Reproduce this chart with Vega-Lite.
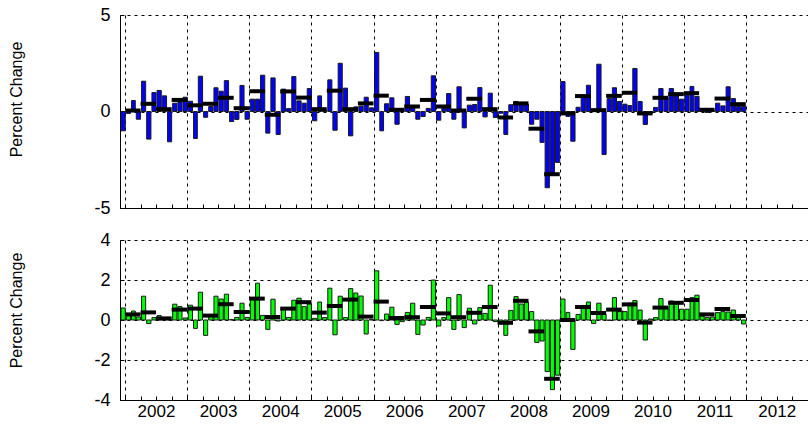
{
  "$schema": "https://vega.github.io/schema/vega-lite/v6.json",
  "padding": {"left": 8, "top": 6, "right": 0, "bottom": 0},
  "background": "white",
  "config": {"font": "Liberation Sans", "view": {"stroke": null}},
  "datasets": {
    "monthly": [
      {"month": "2001-12-01", "pctA": -1.0, "pctB": 0.6},
      {"month": "2002-01-01", "pctA": -0.1, "pctB": 0.25},
      {"month": "2002-02-01", "pctA": 0.57, "pctB": 0.45},
      {"month": "2002-03-01", "pctA": -0.4, "pctB": 0.15},
      {"month": "2002-04-01", "pctA": 1.57, "pctB": 1.19},
      {"month": "2002-05-01", "pctA": -1.43, "pctB": -0.18},
      {"month": "2002-06-01", "pctA": 0.98, "pctB": 0.12},
      {"month": "2002-07-01", "pctA": 1.09, "pctB": 0.22},
      {"month": "2002-08-01", "pctA": 0.81, "pctB": 0.02},
      {"month": "2002-09-01", "pctA": -1.57, "pctB": 0.02},
      {"month": "2002-10-01", "pctA": 0.43, "pctB": 0.79},
      {"month": "2002-11-01", "pctA": 0.5, "pctB": 0.67},
      {"month": "2002-12-01", "pctA": 0.74, "pctB": 0.1},
      {"month": "2003-01-01", "pctA": 0.53, "pctB": 0.74},
      {"month": "2003-02-01", "pctA": -1.4, "pctB": -0.42},
      {"month": "2003-03-01", "pctA": 1.83, "pctB": 1.39},
      {"month": "2003-04-01", "pctA": -0.3, "pctB": -0.77},
      {"month": "2003-05-01", "pctA": 0.26, "pctB": 0.2},
      {"month": "2003-06-01", "pctA": 1.23, "pctB": 1.19},
      {"month": "2003-07-01", "pctA": 1.05, "pctB": 1.05},
      {"month": "2003-08-01", "pctA": 1.6, "pctB": 1.29},
      {"month": "2003-09-01", "pctA": -0.52, "pctB": 0.02},
      {"month": "2003-10-01", "pctA": -0.41, "pctB": 0.13},
      {"month": "2003-11-01", "pctA": 1.35, "pctB": 0.84},
      {"month": "2003-12-01", "pctA": -0.4, "pctB": 0.13},
      {"month": "2004-01-01", "pctA": 0.64, "pctB": 1.12},
      {"month": "2004-02-01", "pctA": 0.64, "pctB": 1.84},
      {"month": "2004-03-01", "pctA": 1.88, "pctB": 0.23},
      {"month": "2004-04-01", "pctA": -1.12, "pctB": -0.47},
      {"month": "2004-05-01", "pctA": 1.74, "pctB": 1.04},
      {"month": "2004-06-01", "pctA": -1.19, "pctB": -0.05},
      {"month": "2004-07-01", "pctA": 1.16, "pctB": 0.59},
      {"month": "2004-08-01", "pctA": 0.15, "pctB": 0.13},
      {"month": "2004-09-01", "pctA": 1.81, "pctB": 0.99},
      {"month": "2004-10-01", "pctA": 0.55, "pctB": 1.09},
      {"month": "2004-11-01", "pctA": 0.43, "pctB": 0.67},
      {"month": "2004-12-01", "pctA": 1.19, "pctB": 0.8},
      {"month": "2005-01-01", "pctA": -0.48, "pctB": 0.08},
      {"month": "2005-02-01", "pctA": 0.81, "pctB": 0.9},
      {"month": "2005-03-01", "pctA": 0.03, "pctB": 0.12},
      {"month": "2005-04-01", "pctA": 1.64, "pctB": 1.59},
      {"month": "2005-05-01", "pctA": -0.97, "pctB": -0.74},
      {"month": "2005-06-01", "pctA": 2.5, "pctB": 1.19},
      {"month": "2005-07-01", "pctA": 1.21, "pctB": 0.12},
      {"month": "2005-08-01", "pctA": -1.26, "pctB": 1.57},
      {"month": "2005-09-01", "pctA": 0.24, "pctB": 1.35},
      {"month": "2005-10-01", "pctA": 0.28, "pctB": 1.2},
      {"month": "2005-11-01", "pctA": 0.74, "pctB": -0.7},
      {"month": "2005-12-01", "pctA": 0.19, "pctB": 0.03},
      {"month": "2006-01-01", "pctA": 3.06, "pctB": 2.46},
      {"month": "2006-02-01", "pctA": -1.0, "pctB": -0.03},
      {"month": "2006-03-01", "pctA": 0.4, "pctB": 0.3},
      {"month": "2006-04-01", "pctA": 0.71, "pctB": 0.64},
      {"month": "2006-05-01", "pctA": -0.66, "pctB": -0.22},
      {"month": "2006-06-01", "pctA": 0.15, "pctB": -0.08},
      {"month": "2006-07-01", "pctA": 0.78, "pctB": 0.38},
      {"month": "2006-08-01", "pctA": 0.2, "pctB": 0.84},
      {"month": "2006-09-01", "pctA": -0.4, "pctB": -0.72},
      {"month": "2006-10-01", "pctA": -0.26, "pctB": -0.25},
      {"month": "2006-11-01", "pctA": 0.16, "pctB": 0.13},
      {"month": "2006-12-01", "pctA": 1.85, "pctB": 2.0},
      {"month": "2007-01-01", "pctA": -0.45, "pctB": -0.3},
      {"month": "2007-02-01", "pctA": 0.17, "pctB": 0.12},
      {"month": "2007-03-01", "pctA": 0.93, "pctB": 1.12},
      {"month": "2007-04-01", "pctA": -0.4, "pctB": -0.47},
      {"month": "2007-05-01", "pctA": 1.28, "pctB": 1.27},
      {"month": "2007-06-01", "pctA": -0.85, "pctB": -0.38},
      {"month": "2007-07-01", "pctA": 0.33, "pctB": 0.59},
      {"month": "2007-08-01", "pctA": 0.36, "pctB": -0.2},
      {"month": "2007-09-01", "pctA": 1.24, "pctB": 0.62},
      {"month": "2007-10-01", "pctA": -0.28, "pctB": 0.33},
      {"month": "2007-11-01", "pctA": 0.95, "pctB": 1.74},
      {"month": "2007-12-01", "pctA": -0.31, "pctB": -0.08},
      {"month": "2008-01-01", "pctA": -0.09, "pctB": -0.15},
      {"month": "2008-02-01", "pctA": -1.19, "pctB": -0.77},
      {"month": "2008-03-01", "pctA": 0.35, "pctB": 0.48},
      {"month": "2008-04-01", "pctA": 0.52, "pctB": 1.17},
      {"month": "2008-05-01", "pctA": 0.4, "pctB": 0.8},
      {"month": "2008-06-01", "pctA": 0.38, "pctB": 0.89},
      {"month": "2008-07-01", "pctA": -0.66, "pctB": 0.42},
      {"month": "2008-08-01", "pctA": -0.4, "pctB": -1.12},
      {"month": "2008-09-01", "pctA": -1.6, "pctB": -1.05},
      {"month": "2008-10-01", "pctA": -3.95, "pctB": -2.58},
      {"month": "2008-11-01", "pctA": -3.16, "pctB": -3.48},
      {"month": "2008-12-01", "pctA": -2.64, "pctB": -2.76},
      {"month": "2009-01-01", "pctA": 1.55, "pctB": 1.05},
      {"month": "2009-02-01", "pctA": -0.26, "pctB": 0.38},
      {"month": "2009-03-01", "pctA": -1.54, "pctB": -1.47},
      {"month": "2009-04-01", "pctA": 0.22, "pctB": 0.28},
      {"month": "2009-05-01", "pctA": 0.81, "pctB": 0.72},
      {"month": "2009-06-01", "pctA": 1.36, "pctB": 0.9},
      {"month": "2009-07-01", "pctA": 0.05, "pctB": -0.17},
      {"month": "2009-08-01", "pctA": 2.45, "pctB": 0.84},
      {"month": "2009-09-01", "pctA": -2.23, "pctB": 0.28},
      {"month": "2009-10-01", "pctA": 0.67, "pctB": -0.02},
      {"month": "2009-11-01", "pctA": 1.23, "pctB": 1.12},
      {"month": "2009-12-01", "pctA": 0.52, "pctB": 0.42},
      {"month": "2010-01-01", "pctA": 0.38, "pctB": 0.42},
      {"month": "2010-02-01", "pctA": 0.31, "pctB": 0.84},
      {"month": "2010-03-01", "pctA": 2.23, "pctB": 0.97},
      {"month": "2010-04-01", "pctA": 0.52, "pctB": 0.5},
      {"month": "2010-05-01", "pctA": -0.67, "pctB": -1.0},
      {"month": "2010-06-01", "pctA": -0.1, "pctB": 0.05},
      {"month": "2010-07-01", "pctA": 0.21, "pctB": 0.12},
      {"month": "2010-08-01", "pctA": 1.19, "pctB": 1.07},
      {"month": "2010-09-01", "pctA": 0.74, "pctB": 0.67},
      {"month": "2010-10-01", "pctA": 1.19, "pctB": 0.95},
      {"month": "2010-11-01", "pctA": 0.81, "pctB": 0.9},
      {"month": "2010-12-01", "pctA": 0.64, "pctB": 0.54},
      {"month": "2011-01-01", "pctA": 0.85, "pctB": 0.54},
      {"month": "2011-02-01", "pctA": 1.3, "pctB": 1.12},
      {"month": "2011-03-01", "pctA": 0.78, "pctB": 1.24},
      {"month": "2011-04-01", "pctA": 0.08, "pctB": 0.2},
      {"month": "2011-05-01", "pctA": -0.05, "pctB": 0.12},
      {"month": "2011-06-01", "pctA": 0.06, "pctB": 0.15},
      {"month": "2011-07-01", "pctA": 0.43, "pctB": 0.37},
      {"month": "2011-08-01", "pctA": 0.29, "pctB": 0.42},
      {"month": "2011-09-01", "pctA": 1.28, "pctB": 0.4},
      {"month": "2011-10-01", "pctA": 0.67, "pctB": 0.5},
      {"month": "2011-11-01", "pctA": 0.26, "pctB": 0.13},
      {"month": "2011-12-01", "pctA": 0.27, "pctB": -0.2}
    ],
    "quarterly": [
      {"start": "2002-01-01", "end": "2002-04-01", "qA": 0.05, "qB": 0.28},
      {"start": "2002-04-01", "end": "2002-07-01", "qA": 0.4, "qB": 0.38},
      {"start": "2002-07-01", "end": "2002-10-01", "qA": 0.12, "qB": 0.08},
      {"start": "2002-10-01", "end": "2003-01-01", "qA": 0.6, "qB": 0.52},
      {"start": "2003-01-01", "end": "2003-04-01", "qA": 0.32, "qB": 0.57},
      {"start": "2003-04-01", "end": "2003-07-01", "qA": 0.4, "qB": 0.22},
      {"start": "2003-07-01", "end": "2003-10-01", "qA": 0.71, "qB": 0.79},
      {"start": "2003-10-01", "end": "2004-01-01", "qA": 0.17, "qB": 0.4},
      {"start": "2004-01-01", "end": "2004-04-01", "qA": 1.05, "qB": 1.07},
      {"start": "2004-04-01", "end": "2004-07-01", "qA": -0.17, "qB": 0.15},
      {"start": "2004-07-01", "end": "2004-10-01", "qA": 1.04, "qB": 0.57},
      {"start": "2004-10-01", "end": "2005-01-01", "qA": 0.72, "qB": 0.89},
      {"start": "2005-01-01", "end": "2005-04-01", "qA": 0.12, "qB": 0.37},
      {"start": "2005-04-01", "end": "2005-07-01", "qA": 1.08, "qB": 0.7},
      {"start": "2005-07-01", "end": "2005-10-01", "qA": 0.12, "qB": 1.02},
      {"start": "2005-10-01", "end": "2006-01-01", "qA": 0.42, "qB": 0.17},
      {"start": "2006-01-01", "end": "2006-04-01", "qA": 0.82, "qB": 0.92},
      {"start": "2006-04-01", "end": "2006-07-01", "qA": 0.09, "qB": 0.1},
      {"start": "2006-07-01", "end": "2006-10-01", "qA": 0.26, "qB": 0.14},
      {"start": "2006-10-01", "end": "2007-01-01", "qA": 0.6, "qB": 0.65},
      {"start": "2007-01-01", "end": "2007-04-01", "qA": 0.26, "qB": 0.33},
      {"start": "2007-04-01", "end": "2007-07-01", "qA": 0.05, "qB": 0.14},
      {"start": "2007-07-01", "end": "2007-10-01", "qA": 0.66, "qB": 0.36},
      {"start": "2007-10-01", "end": "2008-01-01", "qA": 0.12, "qB": 0.65},
      {"start": "2008-01-01", "end": "2008-04-01", "qA": -0.31, "qB": -0.14},
      {"start": "2008-04-01", "end": "2008-07-01", "qA": 0.42, "qB": 0.96},
      {"start": "2008-07-01", "end": "2008-10-01", "qA": -0.89, "qB": -0.57},
      {"start": "2008-10-01", "end": "2009-01-01", "qA": -3.25, "qB": -2.94},
      {"start": "2009-01-01", "end": "2009-04-01", "qA": -0.1, "qB": 0.0},
      {"start": "2009-04-01", "end": "2009-07-01", "qA": 0.8, "qB": 0.65},
      {"start": "2009-07-01", "end": "2009-10-01", "qA": 0.07, "qB": 0.35},
      {"start": "2009-10-01", "end": "2010-01-01", "qA": 0.81, "qB": 0.52},
      {"start": "2010-01-01", "end": "2010-04-01", "qA": 0.97, "qB": 0.78},
      {"start": "2010-04-01", "end": "2010-07-01", "qA": -0.1, "qB": -0.13},
      {"start": "2010-07-01", "end": "2010-10-01", "qA": 0.71, "qB": 0.62},
      {"start": "2010-10-01", "end": "2011-01-01", "qA": 0.9, "qB": 0.86},
      {"start": "2011-01-01", "end": "2011-04-01", "qA": 0.95, "qB": 1.0},
      {"start": "2011-04-01", "end": "2011-07-01", "qA": 0.09, "qB": 0.28},
      {"start": "2011-07-01", "end": "2011-10-01", "qA": 0.67, "qB": 0.55},
      {"start": "2011-10-01", "end": "2012-01-01", "qA": 0.38, "qB": 0.2}
    ]
  },
  "spacing": 14,
  "vconcat": [
    {
      "width": 688,
      "height": 193,
      "layer": [
        {
          "data": {"name": "monthly"},
          "mark": {"type": "bar", "color": "#0000ff", "stroke": "#1a1a1a", "strokeWidth": 1},
          "encoding": {
            "x": {
              "field": "month", "timeUnit": "utcyearmonth", "type": "temporal",
              "scale": {"type": "utc", "domain": [{"year": 2001, "month": 12, "date": 1, "utc": true}, {"year": 2013, "month": 1, "date": 1, "utc": true}]},
              "axis": {
                "title": null, "labels": false,
                "tickCount": {"interval": "month", "step": 3},
                "tickSize": -4, "tickColor": "black", "domainColor": "black",
                "grid": true, "gridColor": "black", "gridDash": [3, 4],
                "gridOpacity": {"condition": {"test": "utcmonth(datum.value) == 0", "value": 1}, "value": 0}
              }
            },
            "y": {
              "field": "pctA", "type": "quantitative",
              "scale": {"domain": [-5, 5], "nice": false},
              "axis": {
                "title": "Percent Change", "values": [-5, 0, 5], "labelOverlap": false,
                "labelExpr": "datum.value < 0 ? '-' + abs(datum.value) : '' + datum.value",
                "tickSize": -4, "tickColor": "black", "domainColor": "black",
                "labelPadding": 14, "labelFontSize": 18, "labelColor": "black",
                "grid": true, "gridColor": "black", "gridDash": [3, 4], "gridOpacity": 1,
                "titleFontSize": 16, "titleFontWeight": "normal", "titleColor": "black", "titlePadding": 69, "titleY": 84
              }
            }
          }
        },
        {
          "data": {"name": "quarterly"},
          "mark": {"type": "rule", "color": "black", "strokeWidth": 4, "strokeCap": "butt"},
          "encoding": {
            "x": {"field": "start", "type": "temporal"},
            "x2": {"field": "end"},
            "y": {"field": "qA", "type": "quantitative"}
          }
        }
      ]
    },
    {
      "width": 688,
      "height": 160,
      "layer": [
        {
          "data": {"name": "monthly"},
          "mark": {"type": "bar", "color": "#00ff00", "stroke": "#1a1a1a", "strokeWidth": 1},
          "encoding": {
            "x": {
              "field": "month", "timeUnit": "utcyearmonth", "type": "temporal",
              "scale": {"type": "utc", "domain": [{"year": 2001, "month": 12, "date": 1, "utc": true}, {"year": 2013, "month": 1, "date": 1, "utc": true}]},
              "axis": {
                "title": null,
                "tickCount": {"interval": "month", "step": 3},
                "labelExpr": "utcmonth(datum.value) == 6 ? utcFormat(datum.value, '%Y') : ''",
                "labelOverlap": false, "labelFlush": false,
                "labelFontSize": 17, "labelColor": "black", "labelPadding": 7,
                "tickSize": -4, "tickColor": "black", "domainColor": "black",
                "grid": true, "gridColor": "black", "gridDash": [3, 4],
                "gridOpacity": {"condition": {"test": "utcmonth(datum.value) == 0", "value": 1}, "value": 0}
              }
            },
            "y": {
              "field": "pctB", "type": "quantitative",
              "scale": {"domain": [-4, 4], "nice": false},
              "axis": {
                "title": "Percent Change", "values": [-4, -2, 0, 2, 4], "tickCount": 5, "labelOverlap": false,
                "labelExpr": "datum.value < 0 ? '-' + abs(datum.value) : '' + datum.value",
                "tickSize": -4, "tickColor": "black", "domainColor": "black",
                "labelPadding": 14, "labelFontSize": 18, "labelColor": "black",
                "grid": true, "gridColor": "black", "gridDash": [3, 4], "gridOpacity": 1,
                "titleFontSize": 16, "titleFontWeight": "normal", "titleColor": "black", "titlePadding": 69, "titleY": 70
              }
            }
          }
        },
        {
          "data": {"name": "quarterly"},
          "mark": {"type": "rule", "color": "black", "strokeWidth": 4, "strokeCap": "butt"},
          "encoding": {
            "x": {"field": "start", "type": "temporal"},
            "x2": {"field": "end"},
            "y": {"field": "qB", "type": "quantitative"}
          }
        },
        {
          "mark": {"type": "rule", "color": "black", "strokeWidth": 1},
          "encoding": {"y": {"datum": 4, "type": "quantitative"}}
        }
      ]
    }
  ]
}
